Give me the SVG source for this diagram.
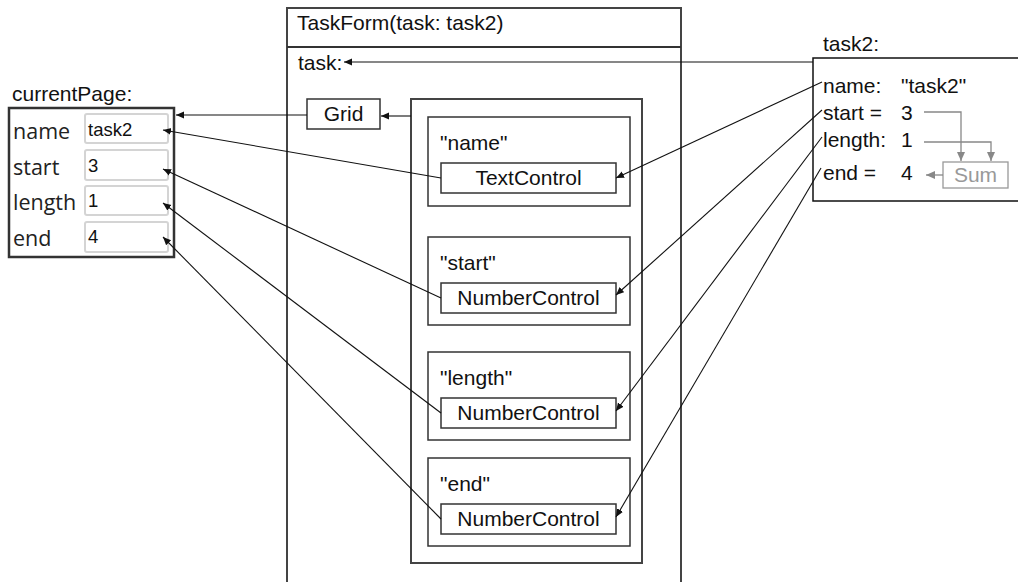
<svg xmlns="http://www.w3.org/2000/svg" width="1018" height="582" viewBox="0 0 1018 582">
  <defs>
    <marker id="ah" markerUnits="userSpaceOnUse" markerWidth="9" markerHeight="9" viewBox="0 0 9 9" refX="8" refY="4.5" orient="auto">
      <path d="M0,1 L8,4.5 L0,8 Z" fill="#111"/>
    </marker>
    <marker id="ahg" markerUnits="userSpaceOnUse" markerWidth="10" markerHeight="10" viewBox="0 0 10 10" refX="9" refY="5" orient="auto">
      <path d="M0,1 L9,5 L0,9 Z" fill="#888"/>
    </marker>
    <style>
      .t { font-family: "Liberation Sans", Arial, sans-serif; font-size: 21px; fill: #111; }
      .ui { font-family: "Open Sans", "Noto Sans", sans-serif; font-size: 21.5px; fill: #222; }
      .v { font-family: "Liberation Sans", Arial, sans-serif; font-size: 18.5px; fill: #111; }
      .box { fill: #fff; stroke: #333; stroke-width: 1.5; }
      .frame { fill: none; stroke: #444; stroke-width: 2; }
      .inp { fill: #fff; stroke: #d4d4d4; stroke-width: 2; }
      .c { fill: none; stroke: #111; stroke-width: 1.1; marker-end: url(#ah); }
      .g { fill: none; stroke: #888; stroke-width: 1.3; marker-end: url(#ahg); }
    </style>
  </defs>

  <g id="taskform">
    <path class="frame" d="M287,582 L287,8 L681,8 L681,582"/>
    <line x1="287" y1="47" x2="681" y2="47" stroke="#333" stroke-width="2"/>
    <text class="t" x="297" y="30">TaskForm(task: task2)</text>
    <text class="t" x="298" y="70">task:</text>
  </g>

  <g id="grid">
    <rect class="box" x="307" y="99" width="73" height="30"/>
    <text class="t" x="343.5" y="121" text-anchor="middle">Grid</text>
  </g>

  <g id="container">
    <rect class="frame" x="411" y="99" width="231" height="464"/>
  </g>

  <g id="field-name">
    <rect class="box" x="428" y="117" width="202" height="89"/>
    <text class="t" x="440" y="150">"name"</text>
    <rect class="box" x="441" y="163" width="175" height="30"/>
    <text class="t" x="528.5" y="185" text-anchor="middle">TextControl</text>
  </g>

  <g id="field-start">
    <rect class="box" x="428" y="237" width="202" height="88"/>
    <text class="t" x="440" y="270">"start"</text>
    <rect class="box" x="441" y="283" width="175" height="30"/>
    <text class="t" x="528.5" y="305" text-anchor="middle">NumberControl</text>
  </g>

  <g id="field-length">
    <rect class="box" x="428" y="352" width="202" height="88"/>
    <text class="t" x="440" y="385">"length"</text>
    <rect class="box" x="441" y="398" width="175" height="30"/>
    <text class="t" x="528.5" y="420" text-anchor="middle">NumberControl</text>
  </g>

  <g id="field-end">
    <rect class="box" x="428" y="458" width="202" height="88"/>
    <text class="t" x="440" y="491">"end"</text>
    <rect class="box" x="441" y="504" width="175" height="30"/>
    <text class="t" x="528.5" y="526" text-anchor="middle">NumberControl</text>
  </g>

  <g id="currentPage">
    <text class="t" x="12" y="101">currentPage:</text>
    <rect x="9" y="108" width="165" height="149" fill="#fff" stroke="#333" stroke-width="2.5"/>
    <text class="ui" x="13" y="139">name</text>
    <text class="ui" x="13" y="175">start</text>
    <text class="ui" x="13" y="210">length</text>
    <text class="ui" x="13" y="246">end</text>
    <rect class="inp" x="85" y="114" width="83" height="29" rx="2"/>
    <rect class="inp" x="85" y="150" width="83" height="30" rx="2"/>
    <rect class="inp" x="85" y="186" width="83" height="29" rx="2"/>
    <rect class="inp" x="85" y="222" width="83" height="30" rx="2"/>
    <text class="v" x="88" y="136">task2</text>
    <text class="v" x="88" y="172">3</text>
    <text class="v" x="88" y="207">1</text>
    <text class="v" x="88" y="243">4</text>
  </g>

  <g id="task2">
    <text class="t" x="823" y="51">task2:</text>
    <path d="M1020,58 L813,58 L813,201 L1020,201" fill="#fff" stroke="#111" stroke-width="1.5"/>
    <text class="t" x="823" y="93">name:</text>
    <text class="t" x="901" y="93">"task2"</text>
    <text class="t" x="823" y="120">start =</text>
    <text class="t" x="901" y="120">3</text>
    <text class="t" x="823" y="147">length:</text>
    <text class="t" x="901" y="147">1</text>
    <text class="t" x="823" y="180">end =</text>
    <text class="t" x="901" y="180">4</text>
  </g>

  <g id="sum">
    <rect x="943" y="162" width="65" height="26" fill="#fff" stroke="#999" stroke-width="1.3"/>
    <text x="975.5" y="182" text-anchor="middle" font-family="Liberation Sans, Arial, sans-serif" font-size="21" fill="#999">Sum</text>
  </g>

  <g id="connectors">
    <line class="c" x1="813" y1="62" x2="344" y2="62"/>
    <line class="c" x1="411" y1="116" x2="381" y2="116"/>
    <line class="c" x1="307" y1="115" x2="176" y2="115"/>
    <line class="c" x1="441" y1="178" x2="163" y2="130"/>
    <line class="c" x1="441" y1="298" x2="163" y2="169"/>
    <line class="c" x1="441" y1="413" x2="163" y2="203"/>
    <line class="c" x1="441" y1="519" x2="163" y2="237"/>
    <line class="c" x1="822" y1="82" x2="616" y2="178"/>
    <line class="c" x1="822" y1="110" x2="616" y2="295"/>
    <line class="c" x1="822" y1="137" x2="616" y2="411"/>
    <line class="c" x1="821" y1="168" x2="616" y2="517"/>
    <path class="g" d="M924,112 L961,112 L961,161"/>
    <path class="g" d="M924,142 L991,142 L991,161"/>
    <line class="g" x1="943" y1="175" x2="926" y2="175"/>
  </g>
</svg>
